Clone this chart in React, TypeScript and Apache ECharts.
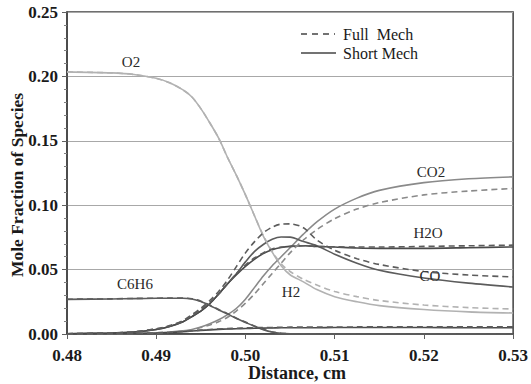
import React, { useEffect, useRef } from "react";
import * as echarts from "echarts";

const xs = [0.48, 0.485, 0.4875, 0.49, 0.4915, 0.493, 0.494, 0.495, 0.496, 0.497, 0.498, 0.499, 0.5, 0.501, 0.502, 0.503, 0.504, 0.505, 0.5065, 0.508, 0.51, 0.5125, 0.515, 0.52, 0.525, 0.53];

const o2Short = [0.2035, 0.2027, 0.2015, 0.1985, 0.195, 0.1895, 0.184, 0.175, 0.164, 0.152, 0.137, 0.123, 0.108, 0.092, 0.076, 0.0635, 0.053, 0.046, 0.0405, 0.0345, 0.029, 0.025, 0.022, 0.019, 0.0172, 0.0163];
const o2Full = [0.2035, 0.2027, 0.2015, 0.1985, 0.195, 0.1895, 0.184, 0.175, 0.164, 0.152, 0.137, 0.123, 0.108, 0.092, 0.0765, 0.064, 0.0545, 0.0485, 0.0425, 0.038, 0.033, 0.029, 0.026, 0.0225, 0.0205, 0.0194];
const co2Short = [0, 0.0002, 0.0005, 0.001, 0.0016, 0.0025, 0.0035, 0.0055, 0.008, 0.011, 0.015, 0.02, 0.027, 0.036, 0.045, 0.053, 0.06, 0.067, 0.0775, 0.087, 0.097, 0.1055, 0.1115, 0.1175, 0.1205, 0.122];
const co2Full = [0, 0.0002, 0.0005, 0.0009, 0.0014, 0.0022, 0.003, 0.005, 0.007, 0.0095, 0.013, 0.018, 0.024, 0.031, 0.039, 0.047, 0.055, 0.063, 0.073, 0.081, 0.0895, 0.097, 0.102, 0.108, 0.111, 0.113];
const coShort = [0.0002, 0.0008, 0.0015, 0.0035, 0.0058, 0.0095, 0.0135, 0.0178, 0.0235, 0.031, 0.039, 0.047, 0.056, 0.064, 0.0695, 0.0735, 0.0753, 0.0752, 0.0718, 0.0685, 0.062, 0.055, 0.0495, 0.0435, 0.0395, 0.0365];
const coFull = [0.0002, 0.0008, 0.0016, 0.004, 0.0065, 0.0105, 0.015, 0.02, 0.026, 0.033, 0.042, 0.0525, 0.063, 0.0715, 0.0785, 0.083, 0.0853, 0.0855, 0.0825, 0.073, 0.065, 0.0585, 0.054, 0.0485, 0.0458, 0.0443];
const h2oShort = [0.0002, 0.0008, 0.0015, 0.0035, 0.0058, 0.0095, 0.0135, 0.0178, 0.0235, 0.031, 0.039, 0.046, 0.0525, 0.058, 0.0625, 0.0655, 0.0672, 0.068, 0.0685, 0.068, 0.0675, 0.0668, 0.0665, 0.0665, 0.067, 0.0676];
const h2oFull = [0.0002, 0.0008, 0.0016, 0.004, 0.0062, 0.01, 0.014, 0.019, 0.0245, 0.031, 0.039, 0.047, 0.0535, 0.059, 0.063, 0.066, 0.0675, 0.068, 0.0685, 0.068, 0.0677, 0.0675, 0.0675, 0.068, 0.0685, 0.069];
const c6h6Short = [0.0269, 0.0272, 0.0275, 0.0277, 0.0278, 0.0278, 0.0272, 0.0252, 0.0222, 0.0187, 0.0155, 0.012, 0.009, 0.006, 0.0034, 0.0015, 0.0005, 0.0001, 0, 0, 0, 0, 0, 0, 0, 0];
const c6h6Full = [0.027, 0.0273, 0.0276, 0.0278, 0.0279, 0.0279, 0.0274, 0.0255, 0.0225, 0.019, 0.0158, 0.0123, 0.0093, 0.0062, 0.0036, 0.0016, 0.0006, 0.0001, 0, 0, 0, 0, 0, 0, 0, 0];
const h2Short = [0, 0.0002, 0.0004, 0.0008, 0.0012, 0.0018, 0.0023, 0.0028, 0.0032, 0.0036, 0.0039, 0.0041, 0.0043, 0.0045, 0.0046, 0.0047, 0.0048, 0.0048, 0.0049, 0.0049, 0.005, 0.005, 0.005, 0.005, 0.0049, 0.0048];
const h2Full = [0, 0.0002, 0.0004, 0.0009, 0.0013, 0.002, 0.0025, 0.003, 0.0035, 0.0039, 0.0042, 0.0045, 0.0047, 0.0049, 0.005, 0.0051, 0.0052, 0.0053, 0.0053, 0.0054, 0.0054, 0.0055, 0.0055, 0.0055, 0.0055, 0.0055];

const speciesLabels = [
  { text: "O2", x: 131, y: 62 },
  { text: "CO2", x: 431, y: 172 },
  { text: "H2O", x: 428, y: 233 },
  { text: "CO", x: 430, y: 276 },
  { text: "C6H6", x: 135, y: 284 },
  { text: "H2", x: 291, y: 292 },
];

const xTitle = "Distance, cm";
const yTitle = "Mole Fraction of Species";
const legendFull = "Full  Mech";
const legendShort = "Short Mech";

const LIGHT = "#b2b2b2";
const MID = "#8a8a8a";
const DARK = "#5c5c5c";
const FONT = "Times New Roman, Liberation Serif, serif";

const toPts = (ys: number[]) => xs.map((x, i) => [x, ys[i]]);

function mk(name: string, ys: number[], color: string, dashed: boolean) {
  return {
    name,
    type: "line",
    data: toPts(ys),
    smooth: 0.3,
    showSymbol: false,
    symbol: "none",
    lineStyle: { color, width: 1.6, type: dashed ? [6, 4] : "solid" },
    z: dashed ? 3 : 2,
  };
}

export default function App() {
  const ref = useRef<HTMLDivElement>(null);
  useEffect(() => {
    if (!ref.current) return;
    const chart = echarts.init(ref.current, undefined, { renderer: "svg" });
    chart.setOption({
      animation: false,
      backgroundColor: "#ffffff",
      textStyle: { fontFamily: FONT },
      grid: {
        left: 67,
        right: 16,
        top: 12,
        bottom: 50,
        show: true,
        borderColor: "#404040",
        borderWidth: 1.5,
      },
      xAxis: {
        type: "value",
        min: 0.48,
        max: 0.53,
        interval: 0.01,
        axisLine: { lineStyle: { color: "#404040", width: 1.5 } },
        axisTick: { show: true, inside: false, length: 5, lineStyle: { color: "#606060" } },
        axisLabel: {
          formatter: (v: number) => v.toFixed(2),
          fontFamily: FONT,
          fontWeight: "bold",
          fontSize: 17,
          color: "#1a1a1a",
          margin: 13,
        },
        splitLine: { show: false },
      },
      yAxis: {
        type: "value",
        min: 0,
        max: 0.25,
        interval: 0.05,
        axisLine: { show: true, lineStyle: { color: "#404040", width: 1.5 } },
        axisTick: { show: true, inside: false, length: 5, lineStyle: { color: "#606060" } },
        minorTick: { show: true, splitNumber: 5, length: 3, lineStyle: { color: "#808080" } },
        axisLabel: {
          formatter: (v: number) => v.toFixed(2),
          fontFamily: FONT,
          fontWeight: "bold",
          fontSize: 17,
          color: "#1a1a1a",
          margin: 9,
        },
        splitLine: { show: true, lineStyle: { color: "#a8a8a8", width: 1 } },
      },
      series: [
        mk("O2 Full", o2Full, LIGHT, true),
        mk("O2 Short", o2Short, LIGHT, false),
        mk("CO2 Full", co2Full, MID, true),
        mk("CO2 Short", co2Short, MID, false),
        mk("CO Full", coFull, DARK, true),
        mk("CO Short", coShort, DARK, false),
        mk("H2O Full", h2oFull, DARK, true),
        mk("H2O Short", h2oShort, "#4a4a4a", false),
        mk("C6H6 Full", c6h6Full, DARK, true),
        mk("C6H6 Short", c6h6Short, DARK, false),
        mk("H2 Full", h2Full, DARK, true),
        mk("H2 Short", h2Short, "#4a4a4a", false),
      ],
      graphic: [
        ...speciesLabels.map((l) => ({
          type: "text",
          x: l.x,
          y: l.y,
          z: 10,
          style: {
            text: l.text,
            fontFamily: FONT,
            fontSize: 15,
            fill: "#2a2a2a",
            align: "center",
            verticalAlign: "middle",
          },
        })),
        {
          type: "text",
          x: 297,
          y: 373,
          style: {
            text: xTitle,
            fontFamily: FONT,
            fontWeight: "bold",
            fontSize: 18,
            fill: "#1a1a1a",
            align: "center",
            verticalAlign: "middle",
          },
        },
        {
          type: "text",
          x: 17,
          y: 185,
          rotation: Math.PI / 2,
          style: {
            text: yTitle,
            fontFamily: FONT,
            fontWeight: "bold",
            fontSize: 17.5,
            fill: "#1a1a1a",
            align: "center",
            verticalAlign: "middle",
          },
        },
        {
          type: "line",
          shape: { x1: 301, y1: 34, x2: 335, y2: 34 },
          style: { stroke: "#444", lineWidth: 1.6, lineDash: [6, 5] },
        },
        {
          type: "line",
          shape: { x1: 301, y1: 53, x2: 336, y2: 53 },
          style: { stroke: "#444", lineWidth: 1.6 },
        },
        {
          type: "text",
          x: 343,
          y: 34,
          style: { text: legendFull, fontFamily: FONT, fontSize: 16, fill: "#1a1a1a", verticalAlign: "middle" },
        },
        {
          type: "text",
          x: 343,
          y: 53,
          style: { text: legendShort, fontFamily: FONT, fontSize: 16, fill: "#1a1a1a", verticalAlign: "middle" },
        },
      ],
    });
    return () => chart.dispose();
  }, []);
  return <div ref={ref} style={{ width: 531, height: 384, position: "absolute", left: 0, top: 0 }} />;
}
